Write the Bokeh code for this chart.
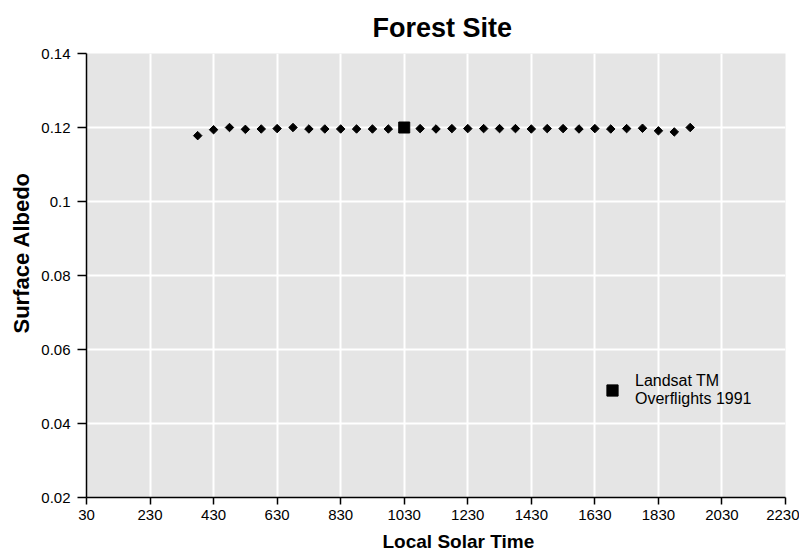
import math
from bokeh.plotting import figure
from bokeh.models import FixedTicker, Range1d, Legend, LegendItem, ColumnDataSource, Title
from bokeh.embed import file_html
from bokeh.resources import INLINE

# ---- data ----
times = [380, 430, 480, 530, 580, 630, 680, 730, 780, 830, 880, 930, 980,
         1080, 1130, 1180, 1230, 1280, 1330, 1380, 1430, 1480, 1530, 1580,
         1630, 1680, 1730, 1780, 1830, 1880, 1930]
albedo = [0.1178, 0.1194, 0.1200, 0.1195, 0.1196, 0.1197, 0.1200, 0.1196, 0.1196,
          0.1196, 0.1196, 0.1196, 0.1196,
          0.1197, 0.1196, 0.1197, 0.1197, 0.1197, 0.1197, 0.1197, 0.1196, 0.1197,
          0.1197, 0.1196, 0.1197, 0.1196, 0.1197, 0.1198, 0.1191, 0.1188, 0.1200]
landsat_time = [1030]
landsat_albedo = [0.1200]

x_ticks = [30, 230, 430, 630, 830, 1030, 1230, 1430, 1630, 1830, 2030, 2230]
y_ticks = [0.02, 0.04, 0.06, 0.08, 0.1, 0.12, 0.14]
y_tick_labels = ["0.02", "0.04", "0.06", "0.08", "0.1", "0.12", "0.14"]

FONT = "Liberation Sans"

p = figure(width=799, height=557, output_backend="svg", toolbar_location=None,
           x_range=Range1d(30, 2230), y_range=Range1d(0.02, 0.14),
           min_border_left=86, min_border_right=14, min_border_top=53,
           min_border_bottom=60, title=None)

main_title = Title(text="Forest Site", align="left", offset=286, text_font=FONT,
                   text_font_size="27px", text_font_style="bold",
                   text_color="#000000", standoff=18, text_line_height=1.0,
                   vertical_align="top")
p.add_layout(main_title, "above")

p.background_fill_color = "#e5e5e5"
p.outline_line_color = None

for ax in (p.xaxis[0], p.yaxis[0]):
    ax.axis_line_color = "#000000"
    ax.axis_line_width = 1.5
    ax.major_tick_line_color = "#000000"
    ax.major_tick_line_width = 1.5
    ax.major_tick_in = 0
    ax.minor_tick_line_color = None
    ax.major_label_text_font = FONT
    ax.major_label_text_font_size = "15px"
    ax.major_label_text_color = "#000000"

p.xaxis.major_tick_out = 7
p.yaxis.major_tick_out = 9
p.xaxis.ticker = FixedTicker(ticks=x_ticks)
p.yaxis.ticker = FixedTicker(ticks=y_ticks)
p.yaxis.major_label_overrides = {v: s for v, s in zip(y_ticks, y_tick_labels)}
p.xaxis.major_label_standoff = 5
p.yaxis.major_label_standoff = 7

xlabel = Title(text="Local Solar Time", align="left", offset=296, text_font=FONT,
               text_font_size="19px", text_font_style="bold", text_color="#000000",
               standoff=12, text_line_height=1.0)
p.add_layout(xlabel, "below")
ylabel = Title(text="Surface Albedo", align="left", offset=164, text_font=FONT,
               text_font_size="22px", text_font_style="bold", text_color="#000000",
               standoff=10, text_line_height=0.8)
p.add_layout(ylabel, "left")

p.xgrid.grid_line_color = "#ffffff"
p.ygrid.grid_line_color = "#ffffff"
p.xgrid.grid_line_width = 2
p.ygrid.grid_line_width = 2

src = ColumnDataSource(dict(x=times, y=albedo))
p.scatter("x", "y", source=src, marker="square", size=6, angle=math.pi / 4,
          fill_color="#000000", line_color="#000000")

lsrc = ColumnDataSource(dict(x=landsat_time, y=landsat_albedo))
r_land = p.scatter("x", "y", source=lsrc, marker="square", size=11,
                   fill_color="#000000", line_color="#000000")

legend = Legend(items=[LegendItem(label="Landsat TM\nOverflights 1991", renderers=[r_land])],
                location=(512, 89), background_fill_alpha=0, border_line_color=None,
                padding=0, margin=0, glyph_width=28, glyph_height=28,
                label_standoff=9, label_text_font=FONT, label_text_font_size="16px",
                label_text_color="#000000", label_text_line_height=1.2)
p.add_layout(legend)

open("out.html", "w").write(file_html(p, INLINE))
